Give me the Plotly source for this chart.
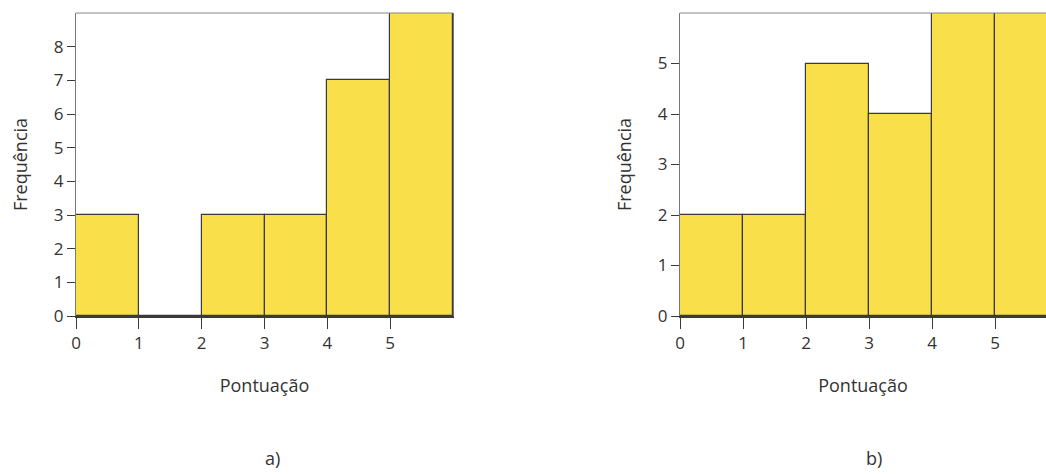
import plotly.graph_objects as go

# Data
bin_left = [0, 1, 2, 3, 4, 5]
freq_a = [3, 0, 3, 3, 7, 9]
freq_b = [2, 2, 5, 4, 6, 6]
x_ticks = [0, 1, 2, 3, 4, 5]
y_ticks_a = [0, 1, 2, 3, 4, 5, 6, 7, 8]
y_ticks_b = [0, 1, 2, 3, 4, 5]
panel_labels = ["a)", "b)"]
x_title = "Pontuação"
y_title = "Frequência"

W, H = 1046, 474
FILL = "#F9E04B"
EDGE = "#3a3a3a"
FAM = "Open Sans, DejaVu Sans, sans-serif"
TICKFONT = dict(family=FAM, size=17, color="#333333")
TITLEFONT = dict(family=FAM, size=18, color="#333333")

centers = [b + 0.5 for b in bin_left]

fig = go.Figure()
fig.add_trace(go.Bar(x=centers, y=freq_a, width=1, xaxis="x", yaxis="y",
                     marker=dict(color=FILL, line=dict(color=EDGE, width=1.2)),
                     showlegend=False, hoverinfo="x+y"))
fig.add_trace(go.Bar(x=centers, y=freq_b, width=1, xaxis="x2", yaxis="y2",
                     marker=dict(color=FILL, line=dict(color=EDGE, width=1.2)),
                     showlegend=False, hoverinfo="x+y"))

ydom = [(H - 316) / H, (H - 13) / H]
xdom_a = [76 / W, 453 / W]
xdom_b = [680 / W, 1.0]
unit_b = 63.0
xmax_b = (W - 680) / unit_b

common_x = dict(showline=True, linecolor=EDGE, linewidth=1.5, ticks="outside",
                ticklen=11, tickcolor=EDGE, tickwidth=1.2, showgrid=False,
                zeroline=False, tickvals=x_ticks, tickfont=TICKFONT,
                automargin=False,
                title=dict(text=x_title, font=TITLEFONT, standoff=26))
common_y = dict(showline=True, linecolor="#777777", linewidth=1.2, ticks="outside",
                ticklen=8, tickcolor=EDGE, tickwidth=1.2, showgrid=False,
                zeroline=False, tickfont=TICKFONT, automargin=False,
                title=dict(text=y_title, font=TITLEFONT, standoff=21))

fig.update_layout(
    width=W, height=H,
    margin=dict(l=0, r=0, t=0, b=0, autoexpand=False),
    paper_bgcolor="white", plot_bgcolor="white",
    bargap=0,
    xaxis=dict(domain=xdom_a, range=[0, 6], anchor="y", **common_x),
    yaxis=dict(domain=ydom, range=[0, 9], anchor="x", tickvals=y_ticks_a,
               mirror=True, **common_y),
    xaxis2=dict(domain=xdom_b, range=[0, xmax_b], anchor="y2", **common_x),
    yaxis2=dict(domain=ydom, range=[0, 6], anchor="x2", tickvals=y_ticks_b,
                **common_y),
)

# top border of each plot box
for xr, yr in [("x domain", "y domain"), ("x2 domain", "y2 domain")]:
    fig.add_shape(type="line", xref=xr, yref=yr, x0=0, x1=1, y0=1, y1=1,
                  line=dict(color="#888888", width=1.2))

# panel labels
for lab, xc in zip(panel_labels, [272 / W, 874 / W]):
    fig.add_annotation(text=lab, xref="paper", yref="paper", x=xc,
                       y=2 / H, showarrow=False, font=TITLEFONT,
                       xanchor="center", yanchor="bottom")

fig.write_html("out.html", config={"displayModeBar": False},
               post_script="document.body.style.margin='0';document.body.style.overflow='hidden';")
